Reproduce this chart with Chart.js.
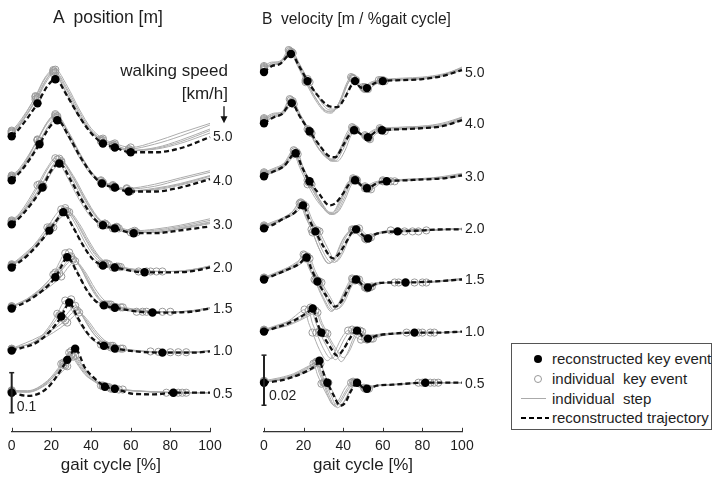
<!DOCTYPE html>
<html>
<head>
<meta charset="utf-8">
<script src="https://cdn.jsdelivr.net/npm/chart.js@4/dist/chart.umd.min.js"></script>
<style>
  body { margin: 0; width: 715px; height: 487px; background: #fff; position: relative; overflow: hidden;
         font-family: "Liberation Sans", Arial, sans-serif; color: #1e1e1e; }
  .box { position: absolute; top: 0; height: 487px; }
  #posBox { left: 0; width: 240px; }
  #velBox { left: 240px; width: 265px; }
  .title { position: absolute; top: 9px; line-height: 17px; white-space: pre; }
  .note { position: absolute; font-size: 17px; line-height: 17px; text-align: right; width: 140px; }
  #legend { position: absolute; left: 511px; top: 343px; width: 201px; height: 87px; border: 1px solid #555; box-sizing: border-box; }
  #legend .row { position: absolute; left: 0; height: 20px; width: 100%; }
  #legend .txt { position: absolute; left: 40px; top: 1px; font-size: 15px; line-height: 18px; white-space: pre; }
  .sym { position: absolute; }
</style>
</head>
<body>
<div class="box" id="posBox"><canvas id="posChart"></canvas></div>
<div class="box" id="velBox"><canvas id="velChart"></canvas></div>

<div class="title" style="left:53px; font-size:17.5px">A  position [m]</div>
<div class="title" style="left:262px; font-size:15.6px; top:10px">B  velocity [m / %gait cycle]</div>
<div class="note" style="left:88px; top:62px">walking speed</div>
<div class="note" style="left:88px; top:85px">[km/h]</div>

<div id="legend">
  <div class="row" style="top:5px">
    <span class="sym" style="left:22px; top:6px; width:8px; height:8px; border-radius:50%; background:#000"></span>
    <span class="txt">reconstructed key event</span>
  </div>
  <div class="row" style="top:25px">
    <span class="sym" style="left:22px; top:6px; width:6px; height:6px; border-radius:50%; border:1px solid #999"></span>
    <span class="txt">individual  key event</span>
  </div>
  <div class="row" style="top:45px">
    <span class="sym" style="left:9px; top:9px; width:25px; height:1px; background:#aaa"></span>
    <span class="txt">individual  step</span>
  </div>
  <div class="row" style="top:64px">
    <span class="sym" style="left:9px; top:9px; width:28px; height:2px; background:repeating-linear-gradient(to right, #000 0 5px, transparent 5px 8px)"></span>
    <span class="txt">reconstructed trajectory</span>
  </div>
</div>

<script>
const speeds = ['5.0', '4.0', '3.0', '2.0', '1.5', '1.0', '0.5'];

// ---- A: position, mm (relative to the value at 0 % gait cycle) ----
const pos50 = [[0,0],[4,20],[13,82],[18,125],[22,142],[28,100],[34,50],[40,8],[46,-18],[52,-28],[60,-40],[73,-40],[85,-30],[100,-2]];
const pos40 = [[0,0],[5,25],[14,90],[19,132],[23,150],[29,108],[35,55],[41,12],[45.5,-8],[52,-18],[59,-28],[72,-28],[85,-18],[100,3]];
const pos30 = [[0,0],[5,22],[15.5,92],[20,135],[24,152],[30,108],[36,55],[42,12],[46,-2],[52,-10],[61.5,-22],[72,-22],[85,-15],[100,-5]];
const pos20 = [[0,0],[8,30],[19,92],[23,120],[26,138],[31,100],[36,55],[41,20],[46,5],[52,0],[67,-12],[80,-12],[90,-10],[100,0]];
const pos15 = [[0,0],[10,25],[22,78],[25,105],[28,128],[33,90],[38,45],[42,20],[46.5,8],[52,2],[71,-10],[80,-10],[90,-8],[100,0]];
const pos10 = [[0,0],[14,25],[25,85],[27,105],[29,120],[33,85],[38,45],[42,25],[46.5,12],[52,5],[76,-5],[85,-5],[92,-5],[100,-2]];
const pos05 = [[0,0],[8,-8],[18,12],[28,82],[30,98],[32,110],[37,62],[43,30],[45,22],[47,15],[52,10],[62,-3],[72,-4],[81.5,0],[90,0],[100,0]];

const pos50Steps = [
  [[0,12],[4,32],[12,100],[17,148],[21,165],[27,122],[33,65],[39,18],[45,-8],[51,-20],[59,-32],[72,-20],[85,0],[100,28]],
  [[0,8],[4,28],[13,95],[18,140],[22,160],[28,118],[34,62],[40,15],[46,-10],[52,-22],[60,-35],[73,-28],[85,-10],[100,18]],
  [[0,14],[3,30],[12,98],[17,145],[21,162],[27,115],[33,58],[40,12],[45,-12],[51,-25],[60,-36],[73,-32],[85,-18],[100,8]],
  [[0,10],[4,30],[13,98],[18,146],[22,166],[28,125],[34,68],[40,20],[46,-6],[52,-18],[60,-28],[72,-14],[85,8],[100,32]],
  [[0,6],[4,26],[12,92],[17,138],[21,158],[27,112],[33,55],[40,10],[45,-12],[51,-24],[59,-36],[73,-30],[85,-14],[100,14]]
];
const pos40Steps = [
  [[0,10],[5,32],[13,102],[18,145],[22,162],[28,122],[34,68],[40,20],[45,-2],[51,-14],[58,-22],[72,-15],[85,2],[100,20]],
  [[0,6],[5,28],[14,98],[19,140],[23,160],[29,118],[35,62],[41,16],[46,-5],[52,-16],[60,-26],[72,-20],[85,-8],[100,12]],
  [[0,12],[4,30],[13,100],[18,142],[22,158],[28,112],[34,58],[40,14],[45,-6],[51,-17],[59,-26],[72,-24],[85,-12],[100,6]],
  [[0,8],[5,30],[13,100],[18,146],[22,165],[28,125],[34,70],[40,22],[45,0],[51,-12],[58,-20],[72,-10],[85,6],[100,24]],
  [[0,4],[5,26],[14,94],[19,136],[23,156],[29,112],[35,58],[41,14],[46,-8],[52,-18],[60,-27],[72,-22],[85,-10],[100,10]]
];
const pos30Steps = [
  [[0,8],[5,30],[14,100],[19,145],[23,162],[29,125],[35,70],[41,22],[46,0],[52,-8],[61,-18],[72,-15],[85,-5],[100,10]],
  [[0,4],[5,26],[15,96],[20,140],[25,158],[31,122],[37,68],[43,20],[47,2],[53,-8],[62,-20],[72,-18],[85,-8],[100,6]],
  [[0,10],[4,28],[13,98],[18,142],[22,165],[28,118],[34,62],[40,18],[45,-1],[51,-10],[60,-20],[72,-20],[85,-12],[100,2]],
  [[0,6],[5,28],[15,98],[20,142],[24,164],[30,126],[36,72],[42,24],[47,2],[53,-6],[62,-16],[72,-12],[85,-2],[100,14]],
  [[0,2],[5,24],[16,94],[21,136],[25,155],[31,115],[37,60],[43,16],[48,-2],[54,-10],[63,-20],[72,-20],[85,-10],[100,4]]
];
const pos20Steps = [
  [[0,6],[8,38],[18,100],[22,130],[25,145],[30,112],[35,65],[40,28],[45,8],[51,0],[64,-10],[80,-10],[90,-6],[100,2]],
  [[0,4],[8,34],[20,102],[24,128],[27,142],[32,110],[37,62],[42,25],[47,8],[53,2],[70,-10],[80,-10],[90,-8],[100,2]],
  [[0,8],[7,36],[19,96],[24,126],[28,140],[33,112],[38,68],[43,30],[48,10],[54,2],[73,-10],[82,-10],[90,-8],[100,4]],
  [[0,5],[8,35],[19,98],[24,132],[27,148],[32,118],[37,72],[42,32],[47,10],[53,2],[68,-10],[80,-10],[90,-6],[100,4]],
  [[0,3],[8,32],[21,100],[25,126],[29,138],[34,110],[39,66],[44,28],[49,8],[55,1],[76,-10],[84,-10],[92,-6],[100,2]]
];
const pos15Steps = [
  [[0,4],[10,32],[21,85],[24,115],[27,138],[32,105],[37,55],[42,22],[46,10],[51,4],[63,-8],[80,-8],[90,-6],[100,2]],
  [[0,2],[10,28],[23,82],[27,112],[30,130],[35,100],[40,55],[44,25],[48,10],[53,3],[76,-8],[84,-8],[92,-6],[100,0]],
  [[0,6],[10,30],[24,88],[28,112],[31,122],[36,95],[41,50],[45,22],[49,10],[55,3],[68,-8],[82,-8],[90,-6],[100,2]],
  [[0,3],[10,30],[22,90],[26,120],[29,140],[34,108],[39,60],[43,28],[47,10],[52,4],[66,-8],[80,-8],[90,-6],[100,2]],
  [[0,5],[10,26],[25,80],[29,106],[32,118],[37,92],[42,50],[46,24],[50,10],[56,3],[80,-8],[86,-8],[92,-6],[100,0]]
];
const pos10Steps = [
  [[0,4],[14,32],[23,92],[25,112],[27,125],[31,95],[36,55],[40,30],[45,15],[50,8],[70,-2],[85,-3],[92,-3],[100,0]],
  [[0,2],[14,28],[26,80],[29,98],[32,112],[36,85],[41,45],[45,25],[48,12],[53,5],[80,-4],[86,-4],[93,-4],[100,-2]],
  [[0,5],[14,35],[27,75],[30,92],[33,100],[37,80],[42,45],[46,25],[50,12],[55,5],[84,-4],[88,-4],[94,-4],[100,0]],
  [[0,3],[14,30],[24,88],[27,110],[30,128],[34,100],[39,58],[43,32],[47,15],[52,6],[74,-3],[85,-3],[92,-3],[100,0]],
  [[0,4],[14,26],[28,70],[31,85],[34,95],[38,78],[43,45],[47,25],[51,12],[56,5],[88,-4],[91,-4],[95,-4],[100,0]]
];
const pos05Steps = [
  [[0,5],[8,5],[18,30],[25,72],[27,88],[29,100],[33,72],[37,45],[41,30],[45,18],[50,10],[60,5],[70,2],[78,0],[90,0],[100,0]],
  [[0,3],[8,2],[18,25],[26,70],[28,84],[30,95],[34,68],[38,42],[42,28],[46,16],[52,10],[62,5],[72,2],[84,0],[92,0],[100,0]],
  [[0,6],[8,4],[18,28],[27,68],[29,80],[31,90],[35,65],[39,40],[43,26],[48,15],[54,8],[64,4],[74,2],[86,0],[93,0],[100,0]],
  [[0,4],[8,3],[18,26],[26,75],[28,90],[30,104],[34,78],[38,48],[42,32],[46,18],[51,10],[61,5],[71,2],[82,0],[91,0],[100,0]],
  [[0,2],[8,1],[18,22],[28,66],[30,80],[32,92],[36,66],[40,40],[44,26],[49,14],[56,8],[66,4],[76,2],[88,0],[94,0],[100,0]]
];
// indices of the key events inside each trajectory
const posKeys = [[0,2,4,8,9,10],[0,2,4,8,9,10],[0,2,4,8,9,10],[0,2,4,8,9,10],[0,2,4,8,9,10],[0,2,4,8,9,10],[0,3,5,9,10,13]];

// ---- B: velocity, 1e-4 m per % gait cycle ----
const vel50 = [[0,0],[4,24],[8,32],[13.6,72],[18,20],[22,-36],[27,-92],[32,-132],[37,-140],[41,-100],[44.5,-48],[46,-36],[48.5,-60],[52,-64],[56,-44],[60,-36],[70,-32],[80,-28],[90,-16],[100,8]];
const vel40 = [[0,0],[5,24],[9,36],[14,80],[18,28],[23,-32],[28,-88],[33,-132],[36,-136],[40,-88],[43,-48],[45.5,-28],[49,-44],[52.5,-56],[56,-36],[59.6,-28],[70,-24],[80,-20],[90,-12],[100,12]];
const vel30 = [[0,0],[5,20],[10,40],[16,92],[19,40],[23,-20],[28,-72],[33,-116],[36,-108],[40,-68],[43,-32],[46,-16],[49,-36],[52,-48],[57,-28],[62,-20],[72,-16],[82,-12],[91,-8],[100,4]];
const vel20 = [[0,0],[5,16],[10,40],[15,60],[19.7,92],[23,32],[26,-12],[30,-72],[35,-120],[38,-100],[42,-48],[44,-20],[46.5,-4],[50,-28],[52.5,-40],[56,-24],[60,-16],[67.5,-12],[80,-8],[90,-4],[100,-4]];
const vel15 = [[0,0],[6,20],[12,40],[18,64],[21.5,88],[24,40],[27,-8],[31,-60],[36,-108],[39,-88],[43,-32],[46.5,0],[50,-24],[52.5,-32],[57,-16],[63,-12],[71.5,-12],[85,-8],[100,0]];
const vel10 = [[0,0],[6,16],[12,32],[18,56],[22,76],[24.6,92],[27,32],[29,-4],[33,-56],[37,-96],[40,-72],[44,-20],[47,4],[50,-20],[52.5,-28],[57,-16],[65,-8],[76,-4],[88,-4],[100,0]];
const vel05 = [[0,0],[8,8],[15,24],[22,48],[26,68],[28,88],[30,40],[32,0],[35,-48],[38.5,-92],[41,-80],[44,-32],[47,0],[50,-20],[52,-24],[57,-12],[65,-8],[81.5,0],[90,0],[100,0]];

const vel50Steps = [
  [[0,24],[4,40],[8,40],[13,84],[17,32],[21,-32],[26,-104],[31,-152],[34,-160],[38,-120],[42,-40],[44,-20],[47,-48],[50,-60],[54,-40],[58,-32],[70,-24],[80,-20],[90,-8],[100,16]],
  [[0,12],[4,32],[8,36],[12.5,88],[17,24],[21,-40],[26,-112],[31,-160],[34,-164],[38,-120],[42,-48],[44.5,-24],[47.5,-56],[51,-68],[55,-44],[59,-32],[70,-28],[80,-24],[90,-12],[100,12]],
  [[0,20],[4,28],[8,40],[14,80],[18,32],[22,-28],[27,-96],[32,-148],[35,-152],[39,-112],[43,-36],[45,-24],[48,-52],[51,-60],[55,-40],[60,-32],[70,-28],[80,-24],[90,-12],[100,16]],
  [[0,16],[4,36],[8,44],[13.5,80],[17.5,28],[21.5,-36],[26.5,-108],[31.5,-156],[34.5,-156],[38.5,-116],[42.5,-44],[45,-28],[47.5,-52],[50.5,-64],[54.5,-44],[59,-36],[70,-28],[80,-24],[90,-12],[100,20]],
  [[0,8],[4,28],[8,32],[14.5,76],[18.5,20],[23,-40],[28,-104],[33,-144],[36,-148],[40,-112],[44,-48],[46.5,-32],[49.5,-56],[52.5,-68],[56.5,-48],[61,-36],[70,-32],[80,-28],[90,-16],[100,8]]
];
const vel40Steps = [
  [[0,16],[5,36],[9,44],[13.5,92],[17.5,36],[22.5,-28],[27.5,-100],[32.5,-144],[35,-148],[39,-100],[42.5,-40],[45,-20],[48,-40],[51.5,-52],[55,-32],[59,-24],[70,-16],[80,-12],[90,-4],[100,20]],
  [[0,8],[5,28],[9,40],[14.5,88],[18.5,32],[23.5,-36],[28.5,-96],[33.5,-148],[36,-150],[40,-104],[43.5,-44],[46,-24],[49.5,-48],[53,-60],[56.5,-36],[60,-28],[70,-20],[80,-16],[90,-8],[100,16]],
  [[0,12],[5,32],[9,36],[14,84],[18,28],[23,-36],[28,-104],[33,-140],[35.5,-144],[39.5,-96],[43,-44],[45.5,-24],[49,-44],[52,-56],[56,-36],[59,-28],[70,-20],[80,-16],[90,-8],[100,24]],
  [[0,20],[5,40],[9,44],[13,96],[17,40],[22,-24],[27,-96],[32,-140],[34.5,-144],[38.5,-100],[42,-36],[44.5,-16],[47.5,-36],[51,-48],[55,-28],[58.5,-20],[70,-16],[80,-12],[90,0],[100,24]],
  [[0,4],[5,24],[9,32],[15,76],[19,24],[24,-40],[29,-100],[34,-152],[37,-152],[41,-108],[44,-48],[46.5,-28],[50,-52],[53.5,-64],[57,-40],[61,-32],[70,-24],[80,-20],[90,-12],[100,12]]
];
const vel30Steps = [
  [[0,12],[5,28],[10,48],[15.5,100],[18.5,44],[22.5,-24],[27.5,-96],[32.5,-148],[35,-152],[39,-100],[42.5,-36],[45.5,-12],[48.5,-32],[51.5,-44],[56,-28],[61,-20],[72,-12],[82,-8],[91,-4],[100,8]],
  [[0,8],[5,24],[10,44],[16.5,96],[19.5,40],[23.5,-28],[28.5,-100],[33.5,-152],[36,-150],[40,-96],[43.5,-32],[46.5,-12],[49.5,-36],[53,-48],[58,-28],[64,-20],[72,-16],[82,-12],[91,-4],[100,8]],
  [[0,4],[5,20],[10,40],[15,88],[18,36],[22,-32],[27,-100],[32,-140],[34.5,-144],[38.5,-92],[42,-28],[45,-16],[48,-36],[51,-48],[56,-28],[60,-20],[72,-16],[82,-12],[91,-8],[100,4]],
  [[0,16],[5,32],[10,52],[15,104],[18,48],[22,-16],[27,-88],[32,-144],[34.5,-148],[38.5,-100],[42,-32],[45,-8],[48,-28],[51,-40],[55.5,-24],[60,-16],[72,-12],[82,-8],[91,0],[100,12]],
  [[0,4],[5,16],[10,36],[17,88],[20,32],[24,-32],[29,-104],[34,-148],[37,-144],[41,-92],[44,-36],[47,-16],[50.5,-40],[54,-52],[59,-28],[66,-20],[72,-16],[82,-12],[91,-8],[100,0]]
];
const vel20Steps = [
  [[0,8],[5,24],[10,44],[14.5,68],[18.5,104],[21.5,40],[24.5,-16],[28.5,-92],[33,-140],[36,-116],[39.5,-52],[42,-20],[44.5,-4],[48,-28],[51,-40],[55,-24],[60,-12],[64,-8],[80,-4],[90,-4],[100,0]],
  [[0,4],[5,20],[10,36],[15,60],[20,96],[23.5,36],[27,-8],[31,-80],[35.5,-136],[38.5,-108],[42,-48],[44.5,-16],[47,-4],[50.5,-24],[53,-40],[57,-24],[62,-16],[71,-12],[80,-8],[90,-4],[100,0]],
  [[0,12],[5,28],[10,44],[14,64],[18,100],[21,44],[24,-4],[28,-84],[32.5,-140],[35.5,-120],[39,-56],[41.5,-24],[45,-8],[48.5,-32],[51.5,-44],[55,-24],[60,-16],[75,-12],[84,-8],[92,-4],[100,0]],
  [[0,6],[5,22],[10,40],[15,64],[19,100],[22,40],[25.5,-12],[29.5,-88],[34,-136],[37,-112],[40.5,-48],[43,-16],[45.5,-4],[49,-28],[52,-40],[56,-24],[61,-16],[78,-12],[85,-8],[92,-4],[100,0]],
  [[0,2],[5,18],[10,36],[15,56],[21,88],[24.5,32],[28,-12],[32,-76],[36.5,-132],[39.5,-104],[43,-40],[45.5,-12],[48,0],[51.5,-24],[54,-36],[58,-20],[63,-12],[82,-8],[88,-8],[94,-4],[100,-4]]
];
const vel15Steps = [
  [[0,8],[6,28],[12,48],[17,72],[20.5,96],[23,44],[26,-4],[30,-72],[34.5,-124],[37.5,-100],[41.5,-40],[45,0],[48.5,-24],[51.5,-32],[56,-16],[61,-12],[66,-12],[85,-8],[100,4]],
  [[0,4],[6,20],[12,44],[18,68],[22,92],[25,36],[28,-8],[32,-64],[36.5,-120],[39.5,-96],[43.5,-28],[47,0],[51,-24],[53.5,-32],[58,-16],[66,-12],[76,-12],[86,-8],[100,0]],
  [[0,6],[6,24],[12,40],[18,60],[21,84],[24,36],[27,-4],[31,-68],[35,-120],[38,-100],[42,-36],[46,-4],[49.5,-28],[52,-36],[57,-16],[64,-12],[80,-12],[88,-8],[100,4]],
  [[0,4],[6,24],[12,44],[17,68],[20,100],[22.5,48],[25.5,0],[29.5,-72],[34,-128],[37,-104],[41,-40],[44.5,4],[48,-20],[51,-32],[55,-16],[60,-12],[68,-12],[85,-8],[100,0]],
  [[0,2],[6,18],[12,36],[18,60],[23,84],[26,32],[29,-12],[33,-64],[37.5,-116],[40.5,-92],[44.5,-24],[48,0],[52,-20],[54.5,-28],[59,-16],[68,-12],[82,-12],[90,-8],[100,0]]
];
const vel10Steps = [
  [[0,4],[6,20],[12,40],[16,64],[18.5,80],[20.5,88],[22.5,36],[24.5,-4],[28,-72],[32,-116],[35,-92],[39,-28],[42.5,4],[46,-20],[49,-32],[54,-16],[62,-8],[72,-4],[86,-4],[100,0]],
  [[0,8],[6,24],[12,40],[18,60],[21.5,80],[23.5,96],[26,40],[28,0],[32,-64],[36,-112],[39,-88],[43,-24],[46,4],[49.5,-20],[52,-32],[57,-16],[66,-8],[80,-4],[89,-4],[100,0]],
  [[0,4],[6,16],[12,28],[18,48],[23,72],[26,84],[28.5,36],[31,-4],[35,-64],[39,-120],[42,-88],[45.5,-20],[48.5,4],[51.5,-20],[54,-28],[59,-16],[68,-8],[84,-4],[92,-4],[100,0]],
  [[0,6],[6,20],[12,36],[18,60],[21,76],[22.5,84],[24.5,32],[26.5,-4],[30,-68],[34,-108],[37,-84],[41,-24],[44.5,8],[48,-16],[51,-28],[56,-16],[64,-8],[78,-4],[88,-4],[100,0]],
  [[0,2],[6,12],[12,24],[18,44],[24,68],[27,76],[29.5,32],[32,-8],[36,-64],[40,-104],[43,-80],[46.5,-20],[49.5,0],[52.5,-20],[55,-28],[60,-16],[70,-8],[86,-4],[93,-4],[100,0]]
];
const vel05Steps = [
  [[0,4],[8,16],[15,32],[21,56],[24,72],[26,80],[28,36],[30,0],[32.5,-56],[35.5,-92],[38,-76],[42,-24],[45,4],[48,-16],[51,-24],[56,-12],[64,-8],[78,0],[90,0],[100,0]],
  [[0,4],[8,12],[15,28],[22,52],[25,68],[27,84],[29,40],[31,0],[34,-52],[37,-100],[40,-80],[43.5,-28],[46,0],[49,-20],[52,-24],[57,-12],[66,-8],[84,0],[90,0],[100,0]],
  [[0,8],[8,20],[15,36],[20,56],[23,68],[25,76],[27,32],[29,-4],[32,-52],[35,-88],[37.5,-72],[41,-20],[44,0],[47.5,-16],[50.5,-20],[55,-12],[62,-8],[86,0],[92,0],[100,0]],
  [[0,6],[8,14],[15,30],[21,52],[24,68],[26.5,84],[28.5,40],[30.5,0],[33,-52],[36,-96],[38.5,-80],[42.5,-28],[45.5,0],[48.5,-16],[51.5,-24],[56,-12],[64,-8],[80,0],[90,0],[100,0]],
  [[0,2],[8,10],[15,24],[22,44],[26,60],[28.5,76],[30.5,36],[32.5,0],[35.5,-48],[38,-88],[40.5,-76],[44,-28],[47,0],[50,-20],[53,-24],[58,-12],[66,-8],[88,0],[93,0],[100,0]]
];
const velKeys = [[0,3,5,11,13,15],[0,3,5,11,13,15],[0,3,5,11,13,15],[0,4,6,12,14,17],[0,4,6,11,13,16],[0,5,7,12,14,17],[0,5,7,12,14,17]];

// scale bars: 0.1 m and 0.02 m/%gait cycle, in the units above
const posBar = [-50, 50];
const velBar = [-90, 110];

// vertical stacking of the speeds in each panel
const posOffsets = [640, 530, 420, 312.5, 210, 105, 0];
const velOffsets = [1240, 1036, 824, 616, 412, 204, 0];

Chart.defaults.font.family = '"Liberation Sans", Arial, sans-serif';
Chart.defaults.color = '#1e1e1e';

function buildSets(recon, steps, keys, offsets, bar) {
  const sets = [];
  recon.forEach((curve, i) => {
    const off = offsets[i];
    const shifted = pts => pts.map(p => ({ x: p[0], y: p[1] + off }));
    const keyPts = pts => keys[i].map(k => ({ x: pts[k][0], y: pts[k][1] + off }));
    steps[i].forEach(step => {
      sets.push({ data: shifted(step), showLine: true, borderColor: '#adadad', borderWidth: 1,
                  pointRadius: 0, cubicInterpolationMode: 'monotone', clip: false, order: 4 });
      sets.push({ data: keyPts(step), showLine: false, pointRadius: 3.6, borderWidth: 1,
                  pointBorderColor: '#9a9a9a', pointBackgroundColor: 'rgba(255,255,255,0)', clip: false, order: 3 });
    });
    sets.push({ data: shifted(curve), showLine: true, borderColor: '#111', borderWidth: 2.3, borderDash: [5, 3],
                pointRadius: 0, cubicInterpolationMode: 'monotone', clip: false, order: 2 });
    sets.push({ data: keyPts(curve), showLine: false, pointRadius: 4.2, pointBorderWidth: 0,
                pointBackgroundColor: '#000', pointBorderColor: '#000', clip: false, order: 1 });
  });
  sets.push({ data: [{ x: 0, y: bar[0] }, { x: 0, y: bar[1] }], showLine: true, borderColor: '#222', borderWidth: 2,
              pointStyle: 'line', pointRadius: 2.5, pointBorderWidth: 1.5, pointBorderColor: '#222', clip: false, order: 0 });
  return sets;
}

// speed labels, inward tick marks, scale-bar label and the speed arrow
const panelDecor = {
  id: 'panelDecor',
  afterDraw(chart, args, opts) {
    const { ctx, chartArea, scales: { x, y } } = chart;
    ctx.save();
    ctx.strokeStyle = '#333';
    ctx.lineWidth = 1;
    x.ticks.forEach(t => {
      const px = Math.round(x.getPixelForValue(t.value)) + 0.5;
      ctx.beginPath();
      ctx.moveTo(px, chartArea.bottom);
      ctx.lineTo(px, chartArea.bottom - 4);
      ctx.stroke();
    });
    ctx.fillStyle = '#1e1e1e';
    ctx.font = '14px "Liberation Sans", Arial, sans-serif';
    ctx.textBaseline = 'middle';
    const xr = x.getPixelForValue(100);
    opts.offsets.forEach((o, i) => ctx.fillText(speeds[i], xr + 3, y.getPixelForValue(o) + 1));
    ctx.textBaseline = 'alphabetic';
    ctx.fillText(opts.barLabel, x.getPixelForValue(0) + 5, y.getPixelForValue(opts.bar[0]) + opts.labelDrop);
    if (opts.arrow) {
      const ax = xr + 14, ay = y.getPixelForValue(opts.offsets[0]);
      ctx.strokeStyle = '#111';
      ctx.lineWidth = 1.3;
      ctx.beginPath();
      ctx.moveTo(ax, ay - 30);
      ctx.lineTo(ax, ay - 18);
      ctx.stroke();
      ctx.fillStyle = '#111';
      ctx.beginPath();
      ctx.moveTo(ax - 3.5, ay - 20);
      ctx.lineTo(ax + 3.5, ay - 20);
      ctx.lineTo(ax, ay - 13);
      ctx.closePath();
      ctx.fill();
    }
    ctx.restore();
  }
};

function panelOptions(yMin, yMax, padding, decor) {
  return {
    responsive: true,
    maintainAspectRatio: false,
    animation: false,
    events: [],
    layout: { padding },
    plugins: { legend: { display: false }, tooltip: { enabled: false }, panelDecor: decor },
    scales: {
      x: {
        type: 'linear', min: 0, max: 100,
        grid: { display: false, drawTicks: false },
        border: { display: true, color: '#333', width: 1.2 },
        ticks: { stepSize: 20, padding: 6, font: { size: 14 }, maxRotation: 0 },
        title: { display: true, text: 'gait cycle [%]', font: { size: 17 }, padding: { top: -5, bottom: 0 } }
      },
      y: { display: false, min: yMin, max: yMax }
    }
  };
}

new Chart(document.getElementById('posChart'), {
  type: 'scatter',
  data: { datasets: buildSets([pos50, pos40, pos30, pos20, pos15, pos10, pos05],
                              [pos50Steps, pos40Steps, pos30Steps, pos20Steps, pos15Steps, pos10Steps, pos05Steps],
                              posKeys, posOffsets, posBar) },
  options: panelOptions(-97.5, 905, { left: 11.7, right: 30, top: 30, bottom: 11 },
                        { offsets: posOffsets, bar: posBar, barLabel: '0.1', labelDrop: -2, arrow: true }),
  plugins: [panelDecor]
});

new Chart(document.getElementById('velChart'), {
  type: 'scatter',
  data: { datasets: buildSets([vel50, vel40, vel30, vel20, vel15, vel10, vel05],
                              [vel50Steps, vel40Steps, vel30Steps, vel20Steps, vel15Steps, vel10Steps, vel05Steps],
                              velKeys, velOffsets, velBar) },
  options: panelOptions(-196, 1408, { left: 24, right: 43, top: 30, bottom: 11 },
                        { offsets: velOffsets, bar: velBar, barLabel: '0.02', labelDrop: -5, arrow: false }),
  plugins: [panelDecor]
});
</script>
</body>
</html>
